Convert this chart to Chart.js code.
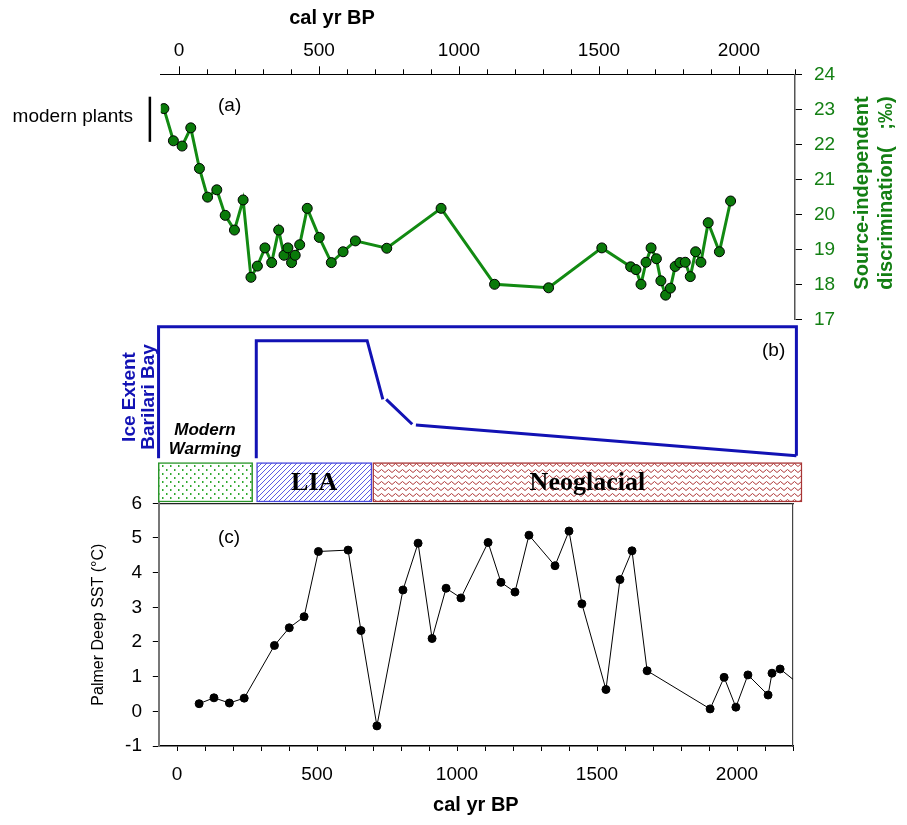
<!DOCTYPE html>
<html>
<head>
<meta charset="utf-8">
<title>Barilari Bay record</title>
<script src="https://cdn.jsdelivr.net/npm/chart.js@4.4.1/dist/chart.umd.min.js"></script>
<style>
  html, body { margin: 0; padding: 0; background: #fff; }
  #wrap { position: relative; width: 907px; height: 825px; }
  #wrap canvas { position: absolute; left: 0; top: 0; }
</style>
</head>
<body>
<div id="wrap">
  <canvas id="c-disc" width="907" height="825"></canvas>
  <canvas id="c-ice" width="907" height="825"></canvas>
  <canvas id="c-periods" width="907" height="825"></canvas>
  <canvas id="c-sst" width="907" height="825"></canvas>
</div>
<script>
// shared time axis (cal yr BP)
const yearMin = -65;
const yearMax = 2200;
const majorYears = [0, 500, 1000, 1500, 2000];
const minorYears = [0, 100, 200, 300, 400, 500, 600, 700, 800, 900, 1000, 1100, 1200, 1300, 1400, 1500, 1600, 1700, 1800, 1900, 2000, 2100, 2200];

// (a) source-independent discrimination
const discYears = [-54, -20, 11, 42, 73, 102, 135, 165, 198, 229, 257, 280, 307, 331, 356, 375, 389, 402, 415, 431,
  458, 501, 544, 586, 630, 742, 936, 1127, 1320, 1510, 1613, 1632, 1650, 1668, 1686, 1705, 1721, 1738, 1755, 1772,
  1789, 1808, 1826, 1845, 1864, 1890, 1930, 1970];
const discValues = [23.02, 22.10, 21.95, 22.47, 21.31, 20.49, 20.70, 19.97, 19.55, 20.41, 18.20, 18.52, 19.04, 18.62, 19.55, 18.83, 19.04, 18.62, 18.83, 19.13,
  20.17, 19.34, 18.62, 18.93, 19.24, 19.03, 20.17, 18.00, 17.90, 19.04, 18.50, 18.42, 18.00, 18.63, 19.04, 18.73, 18.10, 17.69, 17.89, 18.51,
  18.62, 18.63, 18.22, 18.93, 18.63, 19.76, 18.93, 20.38];
const discTicks = [17, 18, 19, 20, 21, 22, 23, 24];
const modernPlantsYear = -104;
const modernPlantsRange = [22.07, 23.36];

// (b) ice extent, relative (0 = minimum, 1 = box top); null breaks the line
const iceYears = [276, 276, 672, 728, 734, 740, 833, 840, 846, 2205];
const iceValues = [0.013, 0.895, 0.895, 0.455, null, 0.455, 0.268, null, 0.263, 0.032];
const frameYears = [-73, -73, 2205, 2205];
const frameValues = [0.013, 1, 1, 0.032];

// climate periods
const periodNames = ['Modern Warming', 'LIA', 'Neoglacial'];
const periodStart = [-74, 277, 692];
const periodEnd = [263, 689, 2225];

// (c) Palmer Deep SST
const sstYears = [79, 132, 187, 240, 348, 401, 454, 505, 611, 657, 714, 807, 861, 911, 961, 1014, 1111, 1157, 1207, 1257,
  1350, 1400, 1446, 1532, 1582, 1625, 1679, 1904, 1954, 1996, 2039, 2111, 2125, 2154, 2250];
const sstValues = [0.22, 0.39, 0.24, 0.38, 1.90, 2.41, 2.73, 4.61, 4.65, 2.33, -0.42, 3.50, 4.85, 2.10, 3.55, 3.27, 4.87, 3.72, 3.44, 5.08,
  4.20, 5.20, 3.10, 0.63, 3.80, 4.63, 1.17, 0.07, 0.98, 0.12, 1.05, 0.47, 1.10, 1.22, 0.60];
const sstTicks = [-1, 0, 1, 2, 3, 4, 5, 6];

const SANS = '"Liberation Sans", Arial, sans-serif';
const SERIF = '"Liberation Serif", "Times New Roman", serif';
const GREEN = '#137f13';
const BLUE = '#1212b4';

const toPoints = (xs, ys) => xs.map((x, i) => ({ x: x, y: ys[i] }));
const yearLabel = v => String(v);

// tick marks for the top time axis: long at the labelled years, short elsewhere
const timeTicks = {
  id: 'timeTicks',
  afterDraw(chart, args, opts) {
    if (!opts.scale) return;
    const sc = chart.scales[opts.scale];
    const ctx = chart.ctx;
    ctx.save();
    ctx.strokeStyle = '#000';
    ctx.lineWidth = 1;
    minorYears.forEach(v => {
      const px = Math.round(sc.getPixelForValue(v)) + 0.5;
      const len = majorYears.includes(v) ? 8 : 5;
      ctx.beginPath();
      ctx.moveTo(px, sc.bottom);
      ctx.lineTo(px, sc.bottom - len);
      ctx.stroke();
    });
    ctx.restore();
  }
};

// free text: panel letters, side titles, notes
const notes = {
  id: 'notes',
  afterDraw(chart, args, opts) {
    if (!opts.items) return;
    const ctx = chart.ctx;
    opts.items.forEach(n => {
      ctx.save();
      ctx.font = n.font;
      ctx.fillStyle = n.color || '#000';
      ctx.textAlign = n.align || 'left';
      ctx.textBaseline = n.baseline || 'middle';
      ctx.translate(n.x, n.y);
      if (n.rotate) ctx.rotate(n.rotate);
      ctx.fillText(n.text, 0, 0);
      ctx.restore();
    });
  }
};

// names written across the period boxes
const periodLabels = {
  id: 'periodLabels',
  afterDatasetsDraw(chart, args, opts) {
    const ctx = chart.ctx;
    ctx.save();
    ctx.font = opts.font;
    ctx.fillStyle = '#000';
    ctx.textAlign = 'center';
    ctx.textBaseline = 'middle';
    chart.data.datasets.forEach((ds, i) => {
      if (!opts.show.includes(ds.label)) return;
      const bar = chart.getDatasetMeta(i).data[0];
      ctx.fillText(ds.label, (bar.x + bar.base) / 2, bar.y + 1);
    });
    ctx.restore();
  }
};

function makePattern(w, h, draw) {
  const c = document.createElement('canvas');
  c.width = w;
  c.height = h;
  const g = c.getContext('2d');
  g.fillStyle = '#fff';
  g.fillRect(0, 0, w, h);
  draw(g);
  return g.createPattern(c, 'repeat');
}

const dots = makePattern(8, 8, g => {
  g.fillStyle = '#2ea82e';
  g.fillRect(2, 1, 1.5, 2);
  g.fillRect(6, 5, 1.5, 2);
});
const hatch = makePattern(5, 5, g => {
  g.strokeStyle = '#4848e0';
  g.lineWidth = 0.9;
  g.beginPath();
  g.moveTo(-1, 6); g.lineTo(6, -1);
  g.stroke();
});
const zigzag = makePattern(7, 6, g => {
  g.strokeStyle = '#b03a3a';
  g.lineWidth = 1;
  g.beginPath();
  g.moveTo(0, 4.5); g.lineTo(3.5, 1.5); g.lineTo(7, 4.5);
  g.stroke();
});

const hidden = { display: false };
const baseOptions = {
  responsive: false,
  animation: false,
  events: [],
};

// ---- (a) discrimination ----
new Chart(document.getElementById('c-disc'), {
  type: 'line',
  data: {
    datasets: [
      {
        data: toPoints(discYears, discValues),
        borderColor: '#128a12',
        borderWidth: 3,
        pointRadius: 5,
        pointBackgroundColor: '#0a7a0a',
        pointBorderColor: '#000',
        pointBorderWidth: 1,
        tension: 0
      },
      {
        data: toPoints([modernPlantsYear, modernPlantsYear], modernPlantsRange),
        borderColor: '#000',
        borderWidth: 2.5,
        pointRadius: 0,
        clip: false
      }
    ]
  },
  options: Object.assign({}, baseOptions, {
    layout: { padding: { left: 160.8, top: 0, right: 0, bottom: 505.7 } },
    plugins: {
      legend: hidden,
      tooltip: { enabled: false },
      timeTicks: { scale: 'x' },
      notes: {
        items: [
          { text: 'cal yr BP', x: 332, y: 18, align: 'center', font: 'bold 20px ' + SANS },
          { text: 'modern plants', x: 133, y: 117, align: 'right', font: '19px ' + SANS },
          { text: '(a)', x: 218, y: 106, font: '19px ' + SANS },
          { text: 'Source-independent', x: 868, y: 193, align: 'center', baseline: 'alphabetic', rotate: -Math.PI / 2, color: GREEN, font: 'bold 20px ' + SANS },
          { text: 'discrimination(   ;‰)', x: 892, y: 193, align: 'center', baseline: 'alphabetic', rotate: -Math.PI / 2, color: GREEN, font: 'bold 20px ' + SANS }
        ]
      }
    },
    scales: {
      x: {
        type: 'linear',
        position: 'top',
        min: yearMin,
        max: yearMax,
        afterBuildTicks: s => { s.ticks = majorYears.map(v => ({ value: v })); },
        afterFit: s => { s.height = 74.3; },
        grid: { display: false, drawTicks: false },
        border: { display: true, color: '#000', width: 1 },
        ticks: { padding: 12, color: '#000', font: { size: 19, family: SANS }, maxRotation: 0, autoSkip: false, callback: yearLabel }
      },
      y: {
        type: 'linear',
        position: 'right',
        min: 17,
        max: 24,
        afterBuildTicks: s => { s.ticks = discTicks.map(v => ({ value: v })); },
        afterFit: s => { s.width = 112; },
        grid: { display: true, drawOnChartArea: false, drawTicks: true, tickLength: 7, color: '#000' },
        border: { display: true, color: '#555', width: 1.5 },
        ticks: { padding: 12, color: GREEN, font: { size: 19, family: SANS } }
      }
    }
  }),
  plugins: [timeTicks, notes]
});

// ---- (b) ice extent ----
// the x range is a little wider here so the box sides stay inside it; pixel scale is unchanged
new Chart(document.getElementById('c-ice'), {
  type: 'line',
  data: {
    datasets: [
      {
        data: toPoints(frameYears, frameValues),
        borderColor: BLUE,
        borderWidth: 3,
        pointRadius: 0,
        borderJoinStyle: 'miter',
        clip: false
      },
      {
        data: toPoints(iceYears, iceValues),
        borderColor: BLUE,
        borderWidth: 3,
        pointRadius: 0,
        spanGaps: false,
        borderJoinStyle: 'miter',
        clip: false
      }
    ]
  },
  options: Object.assign({}, baseOptions, {
    layout: { padding: { left: 158.0, top: 326.7, right: 109.2, bottom: 365 } },
    plugins: {
      legend: hidden,
      tooltip: { enabled: false },
      notes: {
        items: [
          { text: '(b)', x: 762, y: 351, font: '19px ' + SANS },
          { text: 'Modern', x: 205, y: 430, align: 'center', font: 'italic bold 17px ' + SANS },
          { text: 'Warming', x: 205, y: 449, align: 'center', font: 'italic bold 17px ' + SANS },
          { text: 'Ice Extent', x: 135, y: 397, align: 'center', baseline: 'alphabetic', rotate: -Math.PI / 2, color: BLUE, font: 'bold 19px ' + SANS },
          { text: 'Barilari Bay', x: 154, y: 397, align: 'center', baseline: 'alphabetic', rotate: -Math.PI / 2, color: BLUE, font: 'bold 19px ' + SANS }
        ]
      }
    },
    scales: {
      x: { type: 'linear', min: -75, max: 2210, display: false },
      y: { type: 'linear', min: 0, max: 1, display: false }
    }
  }),
  plugins: [notes]
});

// ---- climate periods ----
const periodFill = [dots, hatch, zigzag];
const periodBorder = ['#2a962a', '#4a4ade', '#a83636'];
new Chart(document.getElementById('c-periods'), {
  type: 'bar',
  data: {
    labels: ['period'],
    datasets: periodNames.map((name, i) => ({
      label: name,
      data: [[periodStart[i], periodEnd[i]]],
      backgroundColor: periodFill[i],
      borderColor: periodBorder[i],
      borderWidth: 1.5,
      borderSkipped: false,
      barPercentage: 1,
      categoryPercentage: 1,
      clip: false
    }))
  },
  options: Object.assign({}, baseOptions, {
    indexAxis: 'y',
    grouped: false,
    layout: { padding: { left: 160.8, top: 462.7, right: 112, bottom: 323 } },
    plugins: {
      legend: hidden,
      tooltip: { enabled: false },
      periodLabels: { show: ['LIA', 'Neoglacial'], font: 'bold 26px ' + SERIF }
    },
    scales: {
      x: { type: 'linear', min: yearMin, max: yearMax, display: false },
      y: { type: 'category', display: false }
    }
  }),
  plugins: [periodLabels]
});

// ---- (c) Palmer Deep SST ----
new Chart(document.getElementById('c-sst'), {
  type: 'line',
  data: {
    datasets: [{
      data: toPoints(sstYears, sstValues),
      borderColor: '#000',
      borderWidth: 1,
      pointRadius: 4,
      pointBackgroundColor: '#000',
      pointBorderColor: '#000',
      pointBorderWidth: 1,
      tension: 0
    }]
  },
  options: Object.assign({}, baseOptions, {
    layout: { padding: { left: 0, top: 503.3, right: 114, bottom: 0 } },
    plugins: {
      legend: hidden,
      tooltip: { enabled: false },
      notes: { items: [{ text: '(c)', x: 218, y: 538, font: '19px ' + SANS }] }
    },
    scales: {
      x: {
        type: 'linear',
        position: 'bottom',
        min: yearMin,
        max: yearMax,
        afterBuildTicks: s => { s.ticks = minorYears.map(v => ({ value: v })); },
        afterFit: s => { s.height = 79; },
        grid: { display: true, drawOnChartArea: false, drawTicks: true, tickLength: 5, color: '#000' },
        border: { display: true, color: '#000', width: 1.5 },
        ticks: {
          padding: 12.6, color: '#000', font: { size: 19, family: SANS }, maxRotation: 0, autoSkip: false,
          callback: v => (majorYears.includes(v) ? yearLabel(v) : '')
        },
        title: { display: true, text: 'cal yr BP', color: '#000', font: { size: 20, weight: 'bold', family: SANS }, padding: { top: 0, bottom: 8 } }
      },
      xTop: {
        type: 'linear',
        position: 'top',
        min: yearMin,
        max: yearMax,
        afterFit: s => { s.height = 0; },
        grid: { display: false, drawTicks: false },
        ticks: { display: false },
        border: { display: true, color: '#222', width: 1.2 }
      },
      y: {
        type: 'linear',
        position: 'left',
        min: -1,
        max: 6,
        afterBuildTicks: s => { s.ticks = sstTicks.map(v => ({ value: v })); },
        afterFit: s => { s.width = 158.8; },
        grid: { display: true, drawOnChartArea: false, drawTicks: true, tickLength: 6, color: '#000' },
        border: { display: true, color: '#777', width: 2 },
        ticks: { padding: 10.8, color: '#000', font: { size: 19, family: SANS } },
        title: { display: true, text: 'Palmer Deep SST (°C)', color: '#000', font: { size: 16, family: SANS }, padding: { top: 89.4, bottom: 0 } }
      },
      yRight: {
        type: 'linear',
        position: 'right',
        min: -1,
        max: 6,
        afterFit: s => { s.width = 0; },
        grid: { display: false, drawTicks: false },
        ticks: { display: false },
        border: { display: true, color: '#444', width: 1.2 }
      }
    }
  }),
  plugins: [notes]
});
</script>
</body>
</html>
